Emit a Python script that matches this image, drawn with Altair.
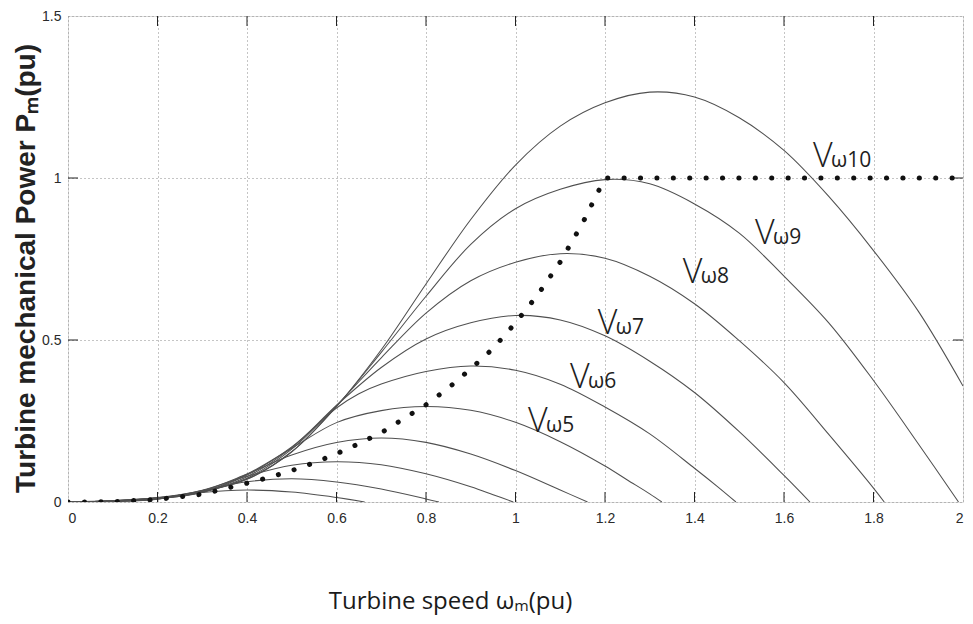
import altair as alt
import pandas as pd

# ---------------- data ----------------
# Power curves Pm(pu) vs turbine speed wm(pu), one list per wind speed
V10_x = [0, 0.1, 0.2, 0.3, 0.4, 0.5, 0.6, 0.7, 0.8, 0.9, 1.0, 1.1, 1.2, 1.3, 1.4, 1.5, 1.6, 1.7, 1.8, 1.9, 2.0]
V10_y = [0, 0.004, 0.014, 0.034, 0.071, 0.155, 0.295, 0.47, 0.673, 0.872, 1.04, 1.16, 1.232, 1.265, 1.25, 1.186, 1.085, 0.943, 0.776, 0.589, 0.358]

V9_x = [0, 0.1, 0.2, 0.3, 0.4, 0.5, 0.6, 0.7, 0.8, 0.9, 1.0, 1.1, 1.2, 1.3, 1.4, 1.5, 1.6, 1.7, 1.8, 1.9, 1.99]
V9_y = [0, 0.004, 0.013, 0.032, 0.07, 0.155, 0.295, 0.462, 0.635, 0.795, 0.905, 0.965, 0.995, 0.982, 0.92, 0.83, 0.697, 0.553, 0.375, 0.18, 0]

V8_x = [0, 0.1, 0.2, 0.3, 0.4, 0.5, 0.6, 0.7, 0.8, 0.9, 1.0, 1.1, 1.2, 1.3, 1.4, 1.5, 1.6, 1.7, 1.8, 1.824]
V8_y = [0, 0.0037, 0.0127, 0.0313, 0.0733, 0.163, 0.298, 0.445, 0.583, 0.683, 0.74, 0.7665, 0.7525, 0.697, 0.612, 0.498, 0.3686, 0.2088, 0.043, 0]

V7_x = [0, 0.1, 0.2, 0.3, 0.4, 0.5, 0.6, 0.7, 0.8, 0.9, 1.0, 1.1, 1.2, 1.3, 1.4, 1.5, 1.6, 1.658]
V7_y = [0, 0.0034, 0.0119, 0.0303, 0.0781, 0.168, 0.298, 0.415, 0.503, 0.553, 0.5758, 0.562, 0.513, 0.4346, 0.338, 0.217, 0.082, 0]

V6_x = [0, 0.1, 0.2, 0.3, 0.4, 0.5, 0.6, 0.65, 0.7, 0.8, 0.9, 1.0, 1.1, 1.2, 1.3, 1.4, 1.45, 1.4925]
V6_y = [0, 0.003, 0.0108, 0.0295, 0.0831, 0.17, 0.29, 0.334, 0.364, 0.403, 0.4198, 0.4067, 0.3637, 0.2932, 0.2102, 0.1041, 0.049, 0]

V5_x = [0, 0.1, 0.2, 0.3, 0.4, 0.5, 0.6, 0.7, 0.8, 0.9, 1.0, 1.1, 1.2, 1.25, 1.3, 1.327]
V5_y = [0, 0.0025, 0.0095, 0.0311, 0.0859, 0.166, 0.245, 0.282, 0.2948, 0.283, 0.2459, 0.1861, 0.1111, 0.068, 0.0252, 0]

V4_x = [0, 0.1, 0.2, 0.3, 0.4, 0.5, 0.6, 0.7, 0.8, 0.9, 1.0, 1.1, 1.161]
V4_y = [0, 0.0021, 0.0091, 0.0344, 0.0863, 0.145, 0.1836, 0.1975, 0.184, 0.148, 0.097, 0.037, 0]

V3_x = [0, 0.1, 0.2, 0.3, 0.4, 0.5, 0.6, 0.7, 0.8, 0.9, 0.95, 0.995]
V3_y = [0, 0.0016, 0.0088, 0.0363, 0.0794, 0.1131, 0.1244, 0.115, 0.0869, 0.0469, 0.0225, 0]

V2_x = [0, 0.1, 0.2, 0.3, 0.4, 0.5, 0.6, 0.7, 0.8, 0.829]
V2_y = [0, 0.0015, 0.0098, 0.0358, 0.0625, 0.0719, 0.062, 0.04, 0.0095, 0]

V1_x = [0, 0.1, 0.2, 0.3, 0.4, 0.5, 0.6, 0.663]
V1_y = [0, 0.0012, 0.0107, 0.0294, 0.0368, 0.0307, 0.0139, 0]

# Maximum-power tracking trajectory (dotted)
MPPT_x = [0, 0.1, 0.2, 0.3, 0.4, 0.45, 0.5, 0.55, 0.6, 0.65, 0.7, 0.75, 0.8, 0.85, 0.9, 0.95, 1.0, 1.05, 1.1, 1.15, 1.2, 1.6, 2.0]
MPPT_y = [0, 0.001, 0.008, 0.024, 0.058, 0.076, 0.097, 0.121, 0.149, 0.18, 0.214, 0.257, 0.300, 0.352, 0.411, 0.474, 0.553, 0.640, 0.741, 0.861, 1.0, 1.0, 1.0]

# Curve labels
label_sub = ["\u03c910", "\u03c99", "\u03c98", "\u03c97", "\u03c96", "\u03c95"]
label_x = [1.665, 1.535, 1.374, 1.184, 1.122, 1.028]
label_y = [1.034, 0.796, 0.676, 0.519, 0.352, 0.216]

x_ticks = [0, 0.2, 0.4, 0.6, 0.8, 1.0, 1.2, 1.4, 1.6, 1.8, 2.0]
y_ticks = [0, 0.5, 1.0, 1.5]
x_inner_ticks = [0.2, 0.4, 0.6, 0.8, 1.0, 1.2, 1.4, 1.6, 1.8]
y_inner_ticks = [0.5, 1.0]

# ---------------- tables ----------------
curves = [
    ("V10", V10_x, V10_y), ("V9", V9_x, V9_y), ("V8", V8_x, V8_y),
    ("V7", V7_x, V7_y), ("V6", V6_x, V6_y), ("V5", V5_x, V5_y),
    ("V4", V4_x, V4_y), ("V3", V3_x, V3_y), ("V2", V2_x, V2_y), ("V1", V1_x, V1_y),
]
rows = []
for name, xs, ys in curves:
    for xv, yv in zip(xs, ys):
        rows.append({"curve": name, "x": xv, "y": yv})
df_curves = pd.DataFrame(rows)
df_mppt = pd.DataFrame({"x": MPPT_x, "y": MPPT_y})
df_labels = pd.DataFrame({"x": label_x, "y": label_y, "sub": label_sub})
df_xt = pd.DataFrame({"x": x_inner_ticks})
df_yt = pd.DataFrame({"y": y_inner_ticks})

W, H = 895, 486
xscale = alt.Scale(domain=[0, 2], nice=False, zero=False)
yscale = alt.Scale(domain=[0, 1.5], nice=False, zero=False)

x_axis = alt.Axis(
    values=x_ticks, format="~g", grid=True, gridDash=[1, 3], gridColor="#8a8a8a",
    gridWidth=1, ticks=False, domain=False, labelPadding=9,
    labelFont="Liberation Sans", labelFontSize=14, labelColor="#2a2a2a",
    title="Turbine speed \u03c9\u2098(pu)", titleFont="Open Sans", titleFontSize=24,
    titleFontWeight="normal", titleColor="#1a1a1a", titleX=382, titleY=106,
    titleBaseline="alphabetic",
)
y_axis = alt.Axis(
    values=y_ticks, format="~g", grid=True, gridDash=[1, 3], gridColor="#8a8a8a",
    gridWidth=1, ticks=False, domain=False, labelPadding=7,
    labelFont="Liberation Sans", labelFontSize=14, labelColor="#2a2a2a",
    title="Turbine mechanical Power P\u2098(pu)", titleFont="Liberation Sans",
    titleFontSize=28, titleFontWeight="bold", titleColor="#222",
    titleX=-34, titleY=252, titleBaseline="alphabetic", titleAngle=270,
)

X = alt.X("x:Q", scale=xscale, axis=x_axis)
Y = alt.Y("y:Q", scale=yscale, axis=y_axis)

lines = alt.Chart(df_curves).mark_line(
    interpolate="catmull-rom", color="#505050", strokeWidth=1.05, clip=True
).encode(x=X, y=Y, detail="curve:N")

mppt = alt.Chart(df_mppt).mark_line(
    color="#111", strokeWidth=5, strokeDash=[0.1, 16.3], strokeCap="round", clip=True
).encode(x=X, y=Y)

lab_v = alt.Chart(df_labels).mark_text(
    text="V", align="left", baseline="alphabetic", font="Open Sans",
    fontSize=34, fontWeight=300, color="#1e1e1e"
).encode(x=X, y=Y)
lab_sub = alt.Chart(df_labels).mark_text(
    align="left", baseline="alphabetic", dx=18, font="Open Sans",
    fontSize=21, color="#1e1e1e"
).encode(x=X, y=Y, text="sub:N")

tick_color = "#222"
tb = alt.Chart(df_xt).mark_rule(color=tick_color, strokeWidth=1).encode(
    x=X, y=alt.value(H), y2=alt.value(H - 10))
tt = alt.Chart(df_xt).mark_rule(color=tick_color, strokeWidth=1).encode(
    x=X, y=alt.value(0), y2=alt.value(10))
tl = alt.Chart(df_yt).mark_rule(color=tick_color, strokeWidth=1).encode(
    y=Y, x=alt.value(0), x2=alt.value(10))
tr = alt.Chart(df_yt).mark_rule(color=tick_color, strokeWidth=1).encode(
    y=Y, x=alt.value(W), x2=alt.value(W - 10))

chart = alt.layer(lines, tb, tt, tl, tr, mppt, lab_v, lab_sub).properties(
    width=W, height=H,
    autosize=alt.AutoSizeParams(type="none"),
    padding={"left": 68, "top": 16, "right": 10, "bottom": 122},
).configure_view(
    stroke="#222", strokeWidth=1.2
).configure(background="white")

chart.save("out.html", embed_options={"renderer": "svg", "actions": False})
